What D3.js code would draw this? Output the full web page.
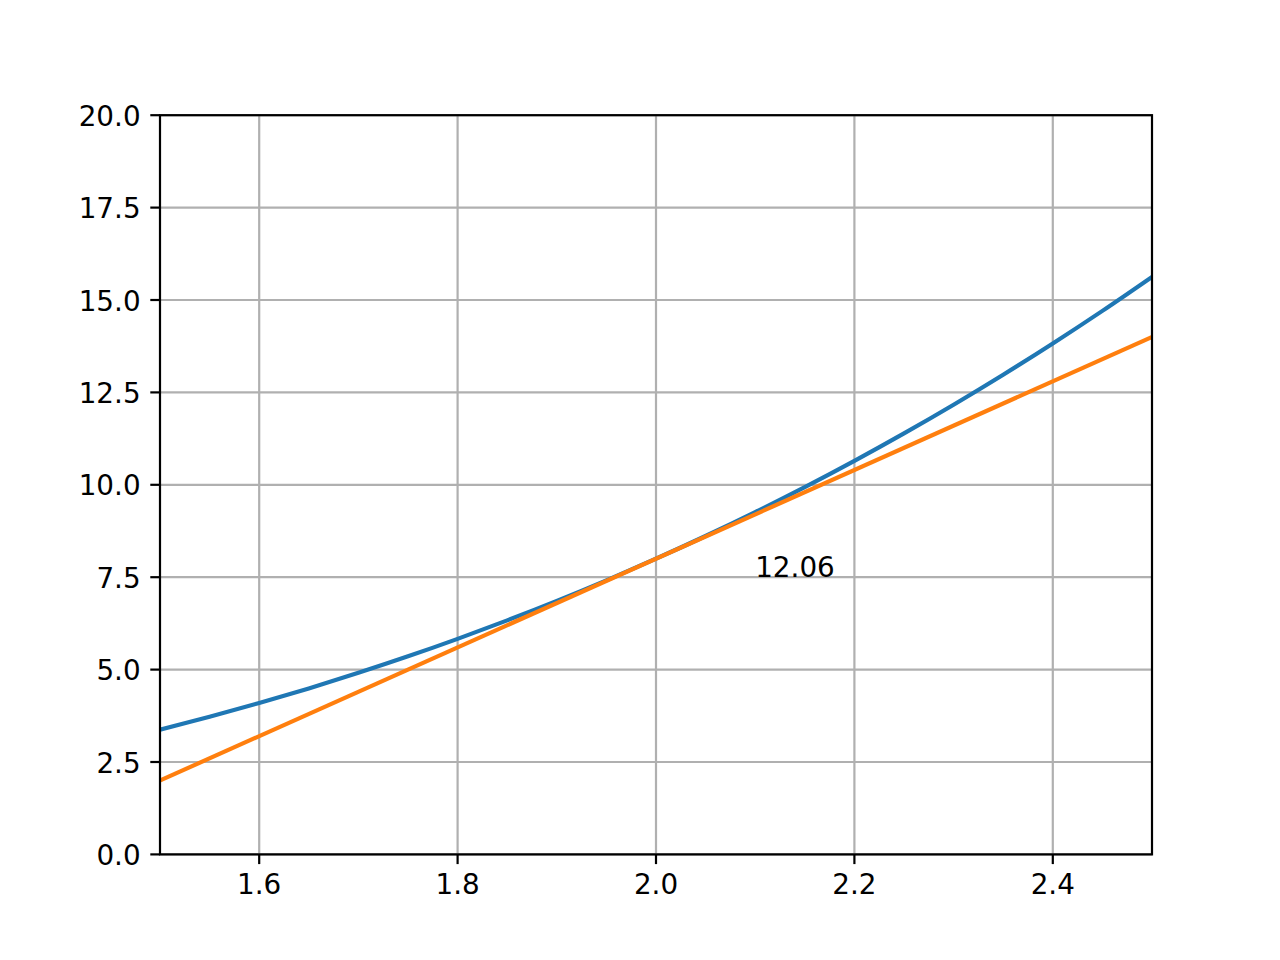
<!DOCTYPE html>
<html>
<head>
<meta charset="utf-8">
<script src="https://cdn.jsdelivr.net/npm/d3@7"></script>
<style>
  html, body { margin: 0; padding: 0; background: #ffffff; }
  svg { display: block; }
  text { font-family: "DejaVu Sans", sans-serif; fill: #000; }
</style>
</head>
<body>
<svg id="chart" width="1280" height="960"></svg>
<script>
// ---- data ----
const curveX = [1.50, 1.55, 1.60, 1.65, 1.70, 1.75, 1.80, 1.85, 1.90, 1.95, 2.00,
                2.05, 2.10, 2.15, 2.20, 2.25, 2.30, 2.35, 2.40, 2.45, 2.50];
const curveY = [3.375, 3.724, 4.096, 4.492, 4.913, 5.359, 5.832, 6.332, 6.859, 7.415, 8.000,
                8.615, 9.261, 9.938, 10.648, 11.391, 12.167, 12.978, 13.824, 14.706, 15.625];
const tangentX = [1.5, 2.5];
const tangentY = [2.0, 14.0];
const xTicks = [1.6, 1.8, 2.0, 2.2, 2.4];
const yTicks = [0, 2.5, 5, 7.5, 10, 12.5, 15, 17.5, 20];
const annotation = { x: 2.1, y: 7.5, text: "12.06" };

// ---- layout ----
const mLeft = 160, mRight = 1152, mTop = 115.2, mBottom = 854.4;
const fontPx = 27.8;
const tickLen = 9.7, tickPad = 9.7;

const svg = d3.select("#chart");
const x = d3.scaleLinear().domain([1.5, 2.5]).range([mLeft, mRight]);
const y = d3.scaleLinear().domain([0, 20]).range([mBottom, mTop]);

svg.append("defs").append("clipPath").attr("id", "clip")
  .append("rect").attr("x", mLeft).attr("y", mTop)
  .attr("width", mRight - mLeft).attr("height", mBottom - mTop);

// grid
const grid = svg.append("g");
grid.selectAll("line.gx").data(xTicks).enter().append("line").attr("class", "gx")
  .attr("x1", d => x(d)).attr("x2", d => x(d))
  .attr("y1", mTop).attr("y2", mBottom)
  .attr("stroke", "#b0b0b0").attr("stroke-width", 2.2);
grid.selectAll("line.gy").data(yTicks).enter().append("line").attr("class", "gy")
  .attr("x1", mLeft).attr("x2", mRight)
  .attr("y1", d => y(d)).attr("y2", d => y(d))
  .attr("stroke", "#b0b0b0").attr("stroke-width", 2.2);

// lines
const plot = svg.append("g").attr("clip-path", "url(#clip)");
const curveData = curveX.map((v, i) => [v, curveY[i]]);
const tangentData = tangentX.map((v, i) => [v, tangentY[i]]);

plot.append("path").datum(curveData)
  .attr("d", d3.line().x(d => x(d[0])).y(d => y(d[1])).curve(d3.curveCatmullRom))
  .attr("fill", "none").attr("stroke", "#1f77b4").attr("stroke-width", 4.17)
  .attr("stroke-linecap", "square");
plot.append("path").datum(tangentData)
  .attr("d", d3.line().x(d => x(d[0])).y(d => y(d[1])))
  .attr("fill", "none").attr("stroke", "#ff7f0e").attr("stroke-width", 4.17)
  .attr("stroke-linecap", "square");

// annotation
svg.append("text")
  .attr("x", x(annotation.x)).attr("y", y(annotation.y))
  .attr("font-size", fontPx)
  .text(annotation.text);

// spines
svg.append("rect")
  .attr("x", mLeft).attr("y", mTop)
  .attr("width", mRight - mLeft).attr("height", mBottom - mTop)
  .attr("fill", "none").attr("stroke", "#000").attr("stroke-width", 2.2);

// ticks + labels
const axX = svg.append("g");
axX.selectAll("line").data(xTicks).enter().append("line")
  .attr("x1", d => x(d)).attr("x2", d => x(d))
  .attr("y1", mBottom).attr("y2", mBottom + tickLen)
  .attr("stroke", "#000").attr("stroke-width", 2.2);
axX.selectAll("text").data(xTicks).enter().append("text")
  .attr("x", d => x(d)).attr("y", mBottom + tickLen + tickPad + 20.5)
  .attr("text-anchor", "middle").attr("font-size", fontPx)
  .text(d => d3.format(".1f")(d));

const axY = svg.append("g");
axY.selectAll("line").data(yTicks).enter().append("line")
  .attr("x1", mLeft - tickLen).attr("x2", mLeft)
  .attr("y1", d => y(d)).attr("y2", d => y(d))
  .attr("stroke", "#000").attr("stroke-width", 2.2);
axY.selectAll("text").data(yTicks).enter().append("text")
  .attr("x", mLeft - tickLen - tickPad).attr("y", d => y(d) + 10.5)
  .attr("text-anchor", "end").attr("font-size", fontPx)
  .text(d => d3.format(".1f")(d));
</script>
</body>
</html>
